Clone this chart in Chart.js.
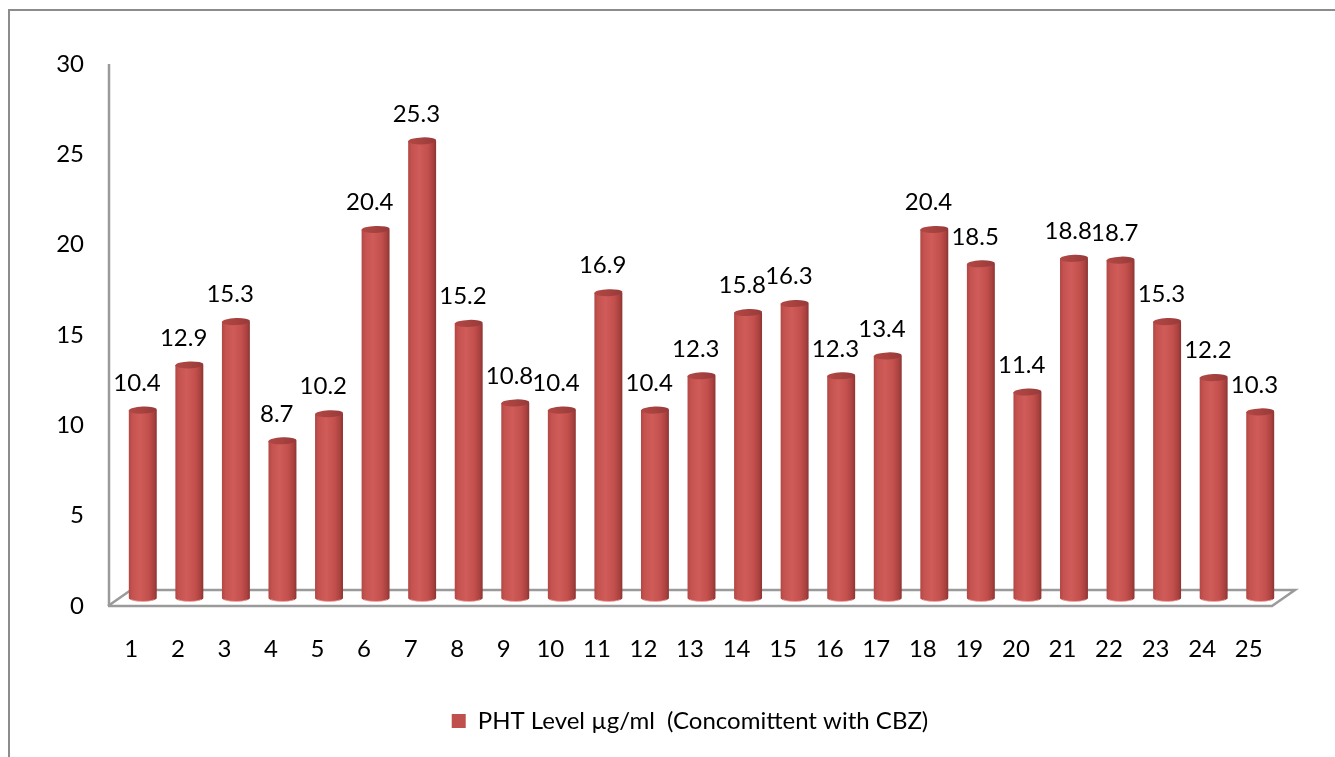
<!DOCTYPE html>
<html>
<head>
<meta charset="utf-8">
<script src="https://cdn.jsdelivr.net/npm/chart.js@4.4.1/dist/chart.umd.min.js"></script>
<style>
  html, body { margin: 0; padding: 0; background: #ffffff; overflow: hidden; }
  #wrap { position: relative; width: 1335px; height: 757px; overflow: hidden; }
  #frame { position: absolute; left: 8px; top: 9px; width: 1400px; height: 800px;
           border-left: 2px solid #8c8c8c; border-top: 2px solid #8c8c8c; }
  #c { position: absolute; left: 0; top: 0; }
</style>
</head>
<body>
<div id="wrap">
  <div id="frame"></div>
  <canvas id="c" width="1335" height="757"></canvas>
</div>
<script>
// Patient numbers along the x axis
const categories = ['1','2','3','4','5','6','7','8','9','10','11','12','13',
                    '14','15','16','17','18','19','20','21','22','23','24','25'];
// Serum phenytoin level per patient (µg/ml)
const phtLevels = [10.4, 12.9, 15.3, 8.7, 10.2, 20.4, 25.3, 15.2, 10.8, 10.4,
                   16.9, 10.4, 12.3, 15.8, 16.3, 12.3, 13.4, 20.4, 18.5, 11.4,
                   18.8, 18.7, 15.3, 12.2, 10.3];
// Value axis ticks
const yTicks = [0, 5, 10, 15, 20, 25, 30];
const seriesLabel = 'PHT Level \u00B5g/ml  (Concomittent with CBZ)';

const FONT = 'Lato';
const AXIS_GREY = '#9a9a9a';
// Oblique depth of the 3D floor; bars stand half-way into it
const DEPTH_X = 23, DEPTH_Y = 16;

function drawCylinder(ctx, cx, top, bottom, w) {
  const rx = w / 2, ry = 3.5;
  const left = cx - rx, right = cx + rx;

  const body = ctx.createLinearGradient(left, 0, right, 0);
  body.addColorStop(0.00, '#b04744');
  body.addColorStop(0.12, '#c4524f');
  body.addColorStop(0.40, '#d05c59');
  body.addColorStop(0.70, '#c4504d');
  body.addColorStop(0.90, '#a8413f');
  body.addColorStop(1.00, '#8c3432');

  ctx.beginPath();
  ctx.moveTo(left, top);
  ctx.lineTo(left, bottom);
  ctx.ellipse(cx, bottom, rx, ry, 0, Math.PI, 0, true);
  ctx.lineTo(right, top);
  ctx.closePath();
  ctx.fillStyle = body;
  ctx.fill();

  // light rim along the base
  ctx.beginPath();
  ctx.ellipse(cx, bottom, rx - 1, ry, 0, Math.PI * 0.85, Math.PI * 0.15, true);
  ctx.strokeStyle = 'rgba(240,170,170,0.7)';
  ctx.lineWidth = 1;
  ctx.stroke();

  // top face
  const cap = ctx.createLinearGradient(left, 0, right, 0);
  cap.addColorStop(0, '#b24744');
  cap.addColorStop(0.5, '#a6423f');
  cap.addColorStop(1, '#97393a');
  ctx.beginPath();
  ctx.ellipse(cx, top, rx, ry, -0.04, 0, Math.PI * 2);
  ctx.fillStyle = cap;
  ctx.fill();
}

const cylinderPlugin = {
  id: 'cylinders',
  beforeDatasetsDraw(chart) {
    const { ctx, chartArea: a, scales: { y } } = chart;
    const y0 = y.getPixelForValue(0);
    ctx.save();
    ctx.strokeStyle = AXIS_GREY;
    ctx.lineWidth = 2.5;
    ctx.lineJoin = 'miter';
    // floor outline
    ctx.beginPath();
    ctx.moveTo(a.left, y0);
    ctx.lineTo(a.right, y0);
    ctx.lineTo(a.right + DEPTH_X, y0 - DEPTH_Y);
    ctx.lineTo(a.left + DEPTH_X, y0 - DEPTH_Y);
    ctx.lineTo(a.left, y0);
    ctx.stroke();
    // value axis line
    ctx.beginPath();
    ctx.moveTo(a.left + 1, y.getPixelForValue(30));
    ctx.lineTo(a.left + 1, y0);
    ctx.stroke();
    ctx.restore();
  },
  beforeDatasetDraw() {
    return false; // bars are rendered as cylinders below
  },
  afterDatasetsDraw(chart) {
    const { ctx } = chart;
    const meta = chart.getDatasetMeta(0);
    const values = chart.data.datasets[0].data;
    ctx.save();
    meta.data.forEach((bar) => {
      const cx = bar.x + DEPTH_X / 2;
      const top = bar.y - DEPTH_Y / 2;
      const bottom = bar.base - DEPTH_Y / 2;
      drawCylinder(ctx, cx, top, bottom, bar.width);
    });
    ctx.fillStyle = '#000000';
    ctx.font = '24px ' + FONT;
    ctx.textAlign = 'center';
    ctx.textBaseline = 'middle';
    meta.data.forEach((bar, i) => {
      const top = bar.y - DEPTH_Y / 2;
      ctx.fillText(String(values[i]), bar.x + DEPTH_X / 4, top - 27);
    });
    ctx.restore();
  }
};

new Chart(document.getElementById('c'), {
  type: 'bar',
  data: {
    labels: categories,
    datasets: [{
      label: seriesLabel,
      data: phtLevels,
      backgroundColor: '#c0504d',
      borderWidth: 0,
      categoryPercentage: 1.0,
      barPercentage: 0.6
    }]
  },
  options: {
    responsive: false,
    animation: false,
    devicePixelRatio: 1,
    layout: { padding: { left: 0, right: 63, top: 64, bottom: 14 } },
    plugins: {
      legend: {
        display: true,
        position: 'bottom',
        fullSize: false,
        labels: {
          color: '#000000',
          font: { family: FONT, size: 24 },
          boxWidth: 14,
          boxHeight: 14,
          padding: 10
        }
      },
      tooltip: { enabled: false }
    },
    scales: {
      x: {
        grid: { display: false, drawTicks: false },
        border: { display: false },
        ticks: { color: '#000000', font: { family: FONT, size: 24 }, padding: 29, maxRotation: 0 },
        afterFit(scale) { scale.height = 93; }
      },
      y: {
        min: 0,
        max: 30,
        grid: { display: false, drawTicks: false },
        border: { display: false },
        ticks: { color: '#000000', font: { family: FONT, size: 24 }, padding: 24 },
        afterBuildTicks(scale) { scale.ticks = yTicks.map(v => ({ value: v })); },
        afterFit(scale) { scale.width = 108; }
      }
    }
  },
  plugins: [cylinderPlugin]
});
</script>
</body>
</html>
